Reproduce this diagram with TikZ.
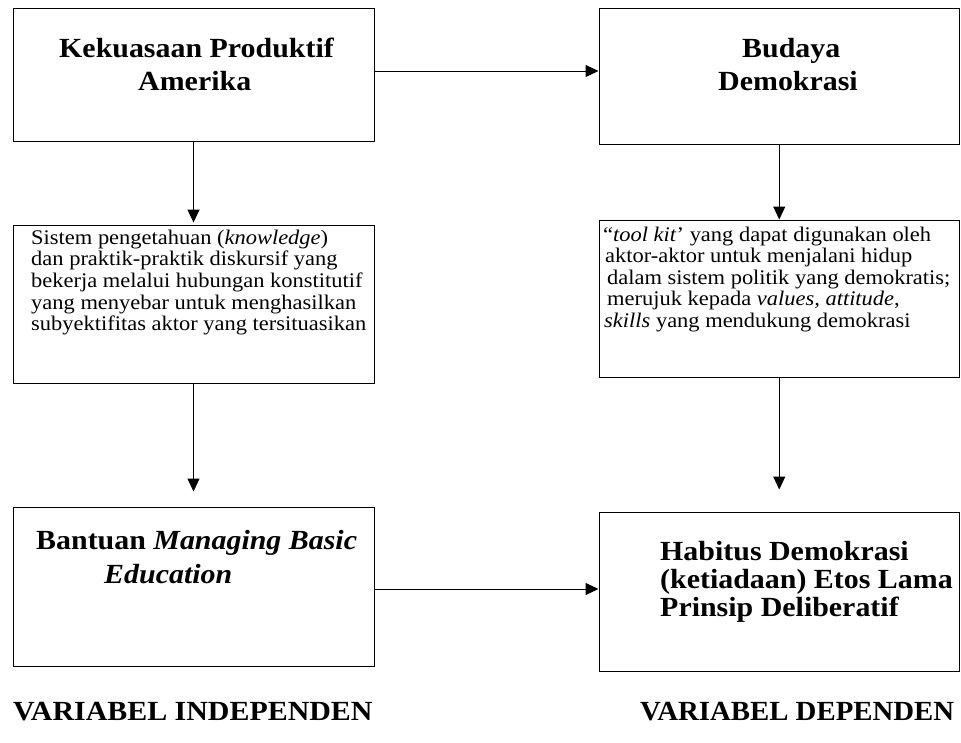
\documentclass[tikz,border=0pt]{standalone}
\usepackage{fontspec}
\setmainfont{Liberation Serif}
\usetikzlibrary{arrows.meta}
\begin{document}
\begin{tikzpicture}[x=1pt,y=-1pt,
  box/.style={draw, line width=1pt, inner sep=0pt},
  bt/.style={inner sep=0pt, anchor=base west, xscale=1.08, font=\fontsize{27.7}{33}\selectfont\bfseries},
  rt/.style={inner sep=0pt, anchor=base west, xscale=1.08, font=\fontsize{20.8}{21.5}\selectfont},
  arr/.style={line width=1pt, -{Triangle[length=13pt,width=12pt]}}]
\useasboundingbox (0,0) rectangle (961,742);
% boxes
\node[box, minimum width=361pt, minimum height=133pt] (k) at (193.5,74.5) {};
\node[box, minimum width=360.5pt, minimum height=136pt] (b) at (779.25,76) {};
\node[box, minimum width=361pt, minimum height=158pt] (s) at (193.5,304) {};
\node[box, minimum width=360.5pt, minimum height=157pt] (t) at (779.25,298.5) {};
\node[box, minimum width=361pt, minimum height=159pt] (m) at (193.5,586.5) {};
\node[box, minimum width=360.5pt, minimum height=159pt] (h) at (779.25,591.5) {};
% texts
\node[bt] (k1) at (59,57) {Kekuasaan Produktif};
\node[bt] (k2) at (138,90) {Amerika};
\node[bt] (b1) at (742,57) {Budaya};
\node[bt] (b2) at (718,90) {Demokrasi};
\node[rt] (s1) at (31,244) {Sistem pengetahuan (\textit{knowledge})};
\node[rt] (s2) at (31,265.7) {dan praktik-praktik diskursif yang};
\node[rt] (s3) at (31,287.4) {bekerja melalui hubungan konstitutif};
\node[rt] (s4) at (31,309.1) {yang menyebar untuk menghasilkan};
\node[rt] (s5) at (31,330.8) {subyektifitas aktor yang tersituasikan};
\node[rt] (t1) at (603,241) {“\textit{tool kit}’ yang dapat digunakan oleh};
\node[rt] (t2) at (605,262.5) {aktor-aktor untuk menjalani hidup};
\node[rt] (t3) at (607,284) {dalam sistem politik yang demokratis;};
\node[rt] (t4) at (607,305.5) {merujuk kepada \textit{values, attitude},};
\node[rt] (t5) at (604,327) {\textit{skills} yang mendukung demokrasi};
\node[bt] (m1) at (36,549) {Bantuan \textit{Managing Basic}};
\node[bt] (m2) at (104,583) {\textit{Education}};
\node[bt] (h1) at (660,560) {Habitus Demokrasi};
\node[bt] (h2) at (660,588) {(ketiadaan) Etos Lama};
\node[bt] (h3) at (660,616) {Prinsip Deliberatif};
\node[bt] (vi) at (13,720) {VARIABEL INDEPENDEN};
\node[bt, xscale=1.04/1.08] (vd) at (640,720) {VARIABEL DEPENDEN};
% connectors
\draw[arr] ([yshift=3.5pt]k.east) -- ([yshift=3.5pt]k.east -| b.west);
\draw[arr, shorten >=2pt] (k.south) -- (s.north);
\draw[arr, shorten >=15pt] (s.south) -- (m.north);
\draw[arr] (b.south) -- (t.north);
\draw[arr, shorten >=22pt] (t.south) -- (h.north);
\draw[arr] ([yshift=-2.5pt]m.east) -- ([yshift=-2.5pt]m.east -| h.west);
\end{tikzpicture}
\end{document}
